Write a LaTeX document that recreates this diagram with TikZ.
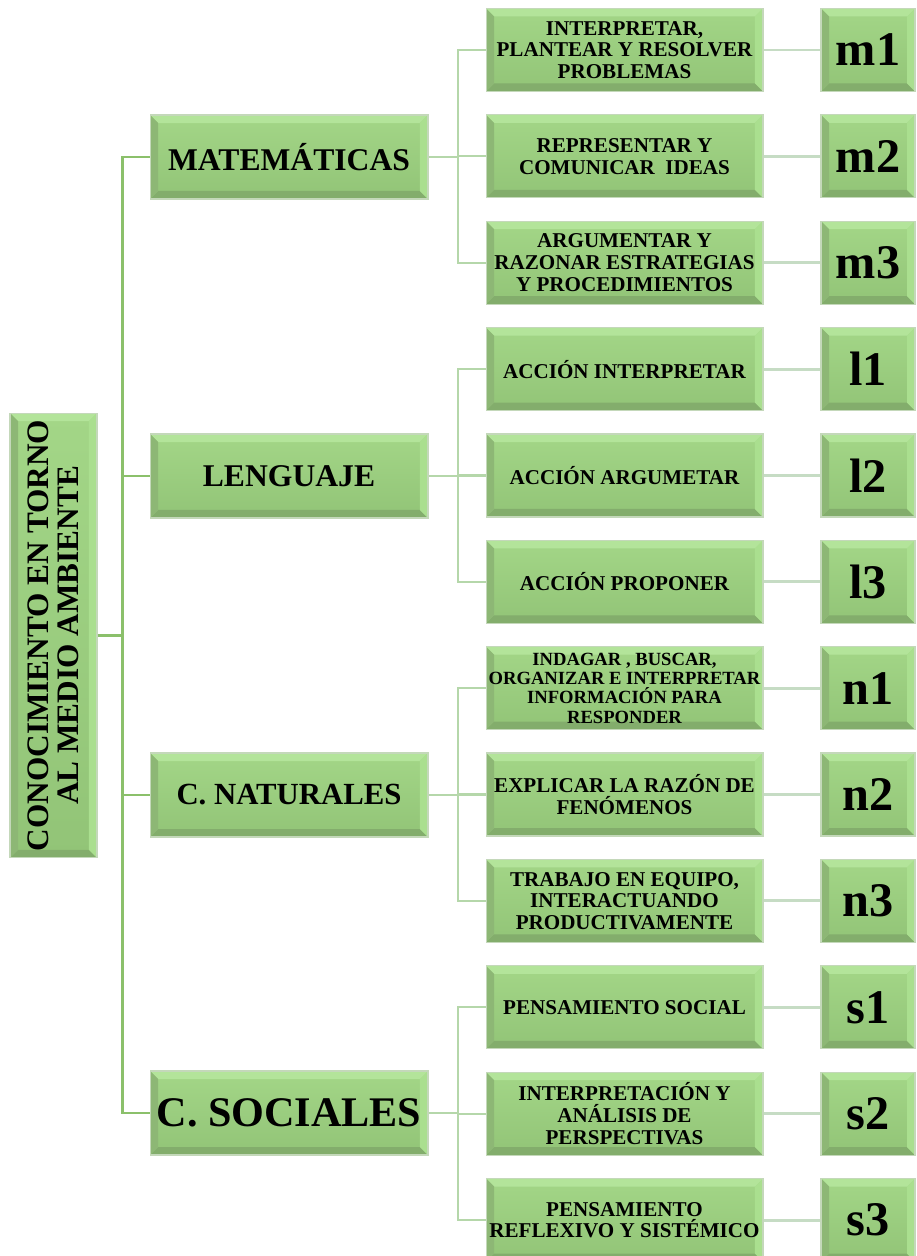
\documentclass[tikz,border=0pt]{standalone}
\usepackage{fontspec}
\setmainfont{Liberation Serif}
\usetikzlibrary{calc}

\definecolor{faceTop}{HTML}{A3D687}
\definecolor{faceBot}{HTML}{92C477}
\definecolor{bevLight}{HTML}{B3E49A}
\definecolor{bevRight}{HTML}{AADF8F}
\definecolor{bevLeft}{HTML}{8DB775}
\definecolor{bevDark}{HTML}{83AD6C}
\definecolor{boxEdge}{HTML}{C4D8BA}
\definecolor{trunkCol}{HTML}{8BC06B}
\definecolor{subCol}{HTML}{B5D7AA}
\definecolor{leafCol}{HTML}{C6DCC4}

\newcommand\boxfont[2]{\fontsize{#1}{#2}\selectfont\bfseries}

\tikzset{
  bevelled/.style={
    draw=boxEdge, line width=0.6pt,
    top color=faceTop, bottom color=faceBot,
    inner sep=0pt, align=center, text=black,
    path picture={
      \coordinate (b1) at (path picture bounding box.south west);
      \coordinate (b2) at (path picture bounding box.north east);
      \coordinate (i1) at ([shift={(0.16cm,0.16cm)}]b1);
      \coordinate (i2) at ([shift={(-0.16cm,-0.16cm)}]b2);
      \fill[bevLight] (b1|-b2) -- (b2) -- (i2) -- (i1|-i2) -- cycle;
      \fill[bevDark]  (b1) -- (b2|-b1) -- (i2|-i1) -- (i1) -- cycle;
      \fill[bevLeft]  (b1) -- (b1|-b2) -- (i1|-i2) -- (i1) -- cycle;
      \fill[bevRight] (b2|-b1) -- (b2) -- (i2) -- (i2|-i1) -- cycle;
    }},
  catbox/.style={bevelled, minimum width=5.56cm, minimum height=1.68cm},
  skillbox/.style={bevelled, minimum width=5.54cm, minimum height=1.66cm,
    font=\boxfont{12}{12.3}},
  codebox/.style={bevelled, minimum width=1.88cm, minimum height=1.66cm,
    font=\boxfont{27.5}{28}},
  trunk/.style={draw=trunkCol, line width=1.45pt},
  sublink/.style={draw=subCol, line width=1.2pt},
  leaflink/.style={draw=leafCol, line width=1.7pt},
}

\begin{document}
\begin{tikzpicture}[x=0.02cm, y=-0.02cm]
\useasboundingbox (0,0) rectangle (916,1256);
\clip (0,0) rectangle (916,1256);

% root
\node[bevelled, minimum width=1.74cm, minimum height=8.9cm] (root) at (53.5,635.5) {};
\node[rotate=90, align=center, inner sep=0pt, font=\boxfont{17.8}{17}] (roottext)
  at (root.center) {CONOCIMIENTO EN TORNO\\AL MEDIO AMBIENTE};

% areas
\node[catbox, font=\boxfont{18}{20}] (mat) at (289,157) {MATEMÁTICAS};
\node[catbox, font=\boxfont{18}{20}] (len) at (289,476) {LENGUAJE};
\node[catbox, font=\boxfont{17.5}{20}] (nat) at (289,795) {C. NATURALES};
\node[catbox, font=\boxfont{24}{26}] (soc) at (289,1113) {C. SOCIALES};

% competences
\node[skillbox] (k1)  at (624.5,50)   {INTERPRETAR,\\PLANTEAR Y RESOLVER\\PROBLEMAS};
\node[skillbox] (k2)  at (624.5,156.4) {REPRESENTAR Y\\COMUNICAR\ \ IDEAS};
\node[skillbox] (k3)  at (624.5,262.7) {ARGUMENTAR Y\\RAZONAR ESTRATEGIAS\\Y PROCEDIMIENTOS};
\node[skillbox] (k4)  at (624.5,369.1) {ACCIÓN INTERPRETAR};
\node[skillbox] (k5)  at (624.5,475.5) {ACCIÓN ARGUMETAR};
\node[skillbox] (k6)  at (624.5,581.8) {ACCIÓN PROPONER};
\node[skillbox, font=\boxfont{10.6}{11}] (k7) at (624.5,688.2)
  {INDAGAR , BUSCAR,\\ORGANIZAR E INTERPRETAR\\INFORMACIÓN PARA\\RESPONDER};
\node[skillbox] (k8)  at (624.5,794.5) {EXPLICAR LA RAZÓN DE\\FENÓMENOS};
\node[skillbox] (k9)  at (624.5,900.9) {TRABAJO EN EQUIPO,\\INTERACTUANDO\\PRODUCTIVAMENTE};
\node[skillbox] (k10) at (624.5,1007.3) {PENSAMIENTO SOCIAL};
\node[skillbox] (k11) at (624.5,1113.6) {INTERPRETACIÓN Y\\ANÁLISIS DE\\PERSPECTIVAS};
\node[skillbox] (k12) at (624.5,1220) {PENSAMIENTO\\REFLEXIVO Y SISTÉMICO};

% codes
\node[codebox] (c1)  at (868,50)     {m1};
\node[codebox] (c2)  at (868,156.4)  {m2};
\node[codebox] (c3)  at (868,262.7)  {m3};
\node[codebox] (c4)  at (868,369.1)  {l1};
\node[codebox] (c5)  at (868,475.5)  {l2};
\node[codebox] (c6)  at (868,581.8)  {l3};
\node[codebox] (c7)  at (868,688.2)  {n1};
\node[codebox] (c8)  at (868,794.5)  {n2};
\node[codebox] (c9)  at (868,900.9)  {n3};
\node[codebox] (c10) at (868,1007.3) {s1};
\node[codebox] (c11) at (868,1113.6) {s2};
\node[codebox] (c12) at (868,1220)   {s3};

% main trunk
\coordinate (tk) at (122.5,635.5);
\draw[trunk] (root.east) -- (tk);
\draw[trunk] (tk) |- (mat.west);
\draw[trunk] (tk) |- (len.west);
\draw[trunk] (tk) |- (nat.west);
\draw[trunk] (tk) |- (soc.west);

% branches to competences
\coordinate (jm) at (458,157);
\coordinate (jl) at (458,476);
\coordinate (jn) at (458,795);
\coordinate (js) at (458,1113);
\draw[sublink] (mat.east) -- (jm);
\draw[sublink] (len.east) -- (jl);
\draw[sublink] (nat.east) -- (jn);
\draw[sublink] (soc.east) -- (js);
\foreach \j/\a/\b/\c in {jm/k1/k2/k3, jl/k4/k5/k6, jn/k7/k8/k9, js/k10/k11/k12}{
  \draw[sublink] (\j) |- (\a.west);
  \draw[sublink] (\j) |- (\b.west);
  \draw[sublink] (\j) |- (\c.west);
}

% links to codes
\foreach \i in {1,...,12}{
  \draw[leaflink] (k\i.east) -- (c\i.west);
}
\end{tikzpicture}
\end{document}
